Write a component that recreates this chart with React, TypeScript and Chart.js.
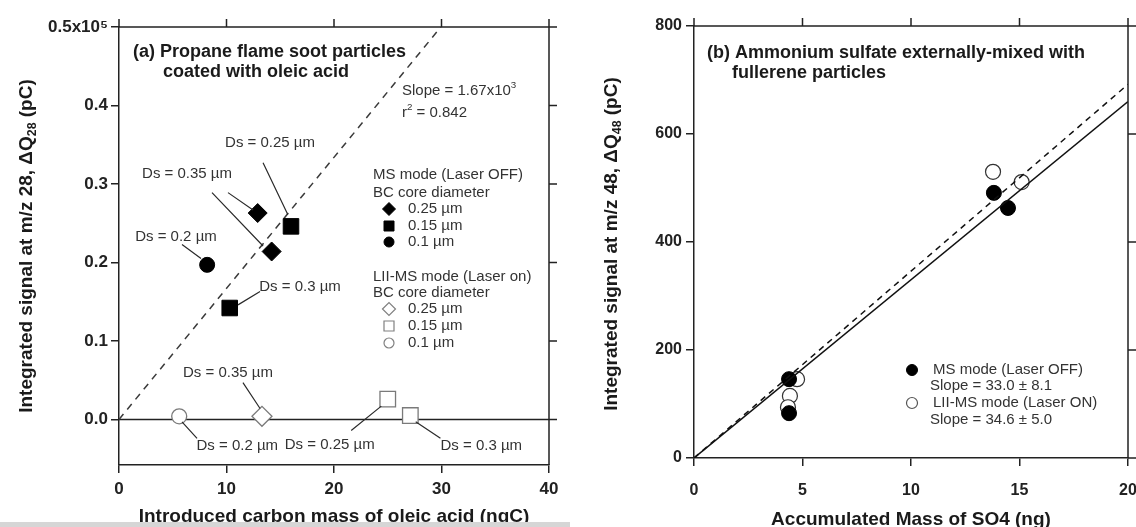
import React, { useEffect, useRef } from 'react';
import { Chart, registerables } from 'chart.js';

Chart.register(...registerables);

const FONT = "'Liberation Sans', Arial, Helvetica, sans-serif";
const AXIS = '#222222';
const TEXT = '#333333';

// ---------- Panel (a): propane flame soot coated with oleic acid ----------
const aXTicks = [0, 10, 20, 30, 40];
const aYTicks = [0, 0.1, 0.2, 0.3, 0.4, 0.5];
// MS mode (laser off)
const aMsDiamondX = [12.9, 14.2];
const aMsDiamondY = [0.263, 0.214];
const aMsSquareX = [16.0, 10.3];
const aMsSquareY = [0.246, 0.142];
const aMsCircleX = [8.2];
const aMsCircleY = [0.197];
// LII-MS mode (laser on)
const aLiiDiamondX = [13.3];
const aLiiDiamondY = [0.004];
const aLiiSquareX = [25.0, 27.1];
const aLiiSquareY = [0.026, 0.005];
const aLiiCircleX = [5.6];
const aLiiCircleY = [0.004];
const aFitSlope = 0.0167; // x10^5 pC per ngC
// Ds labels (data coords of label centre) and leader lines
const aNoteText = ['Ds = 0.25 µm', 'Ds = 0.35 µm', 'Ds = 0.2 µm', 'Ds = 0.3 µm', 'Ds = 0.35 µm', 'Ds = 0.2 µm', 'Ds = 0.25 µm', 'Ds = 0.3 µm'];
const aNoteX = [14.05, 6.33, 5.3, 16.84, 10.14, 11.0, 19.6, 33.7];
const aNoteY = [0.352, 0.313, 0.233, 0.169, 0.06, -0.034, -0.032, -0.034];
const aLeaders = [
  [13.4, 0.327, 15.7, 0.261],
  [10.14, 0.289, 12.47, 0.267],
  [8.65, 0.289, 13.4, 0.221],
  [5.86, 0.223, 7.63, 0.205],
  [11.07, 0.146, 13.12, 0.163],
  [11.53, 0.047, 13.12, 0.014],
  [5.86, -0.003, 7.26, -0.024],
  [21.6, -0.014, 24.4, 0.017],
  [27.6, -0.003, 29.9, -0.024],
];

// ---------- Panel (b): ammonium sulfate + fullerene ----------
const bXTicks = [0, 5, 10, 15, 20];
const bYTicks = [0, 200, 400, 600, 800];
const bMsX = [4.38, 4.38, 13.82, 14.47];
const bMsY = [146, 83, 491, 463];
const bLiiX = [4.75, 4.42, 4.33, 13.78, 15.1];
const bLiiY = [146, 115, 94, 530, 511];
const bSlopeMs = 33.0;
const bSlopeLii = 34.6;
const bFitRange = [0, 20];

const zip = (xs: number[], ys: number[]) => xs.map((x, i) => ({ x, y: ys[i] }));

type Part = { t: string; s?: 'sub' | 'sup' };

function richWidth(ctx: CanvasRenderingContext2D, parts: Part[], size: number, weight: string) {
  let w = 0;
  for (const p of parts) {
    const fs = p.s ? size * 0.65 : size;
    ctx.font = `${weight} ${fs}px ${FONT}`;
    w += ctx.measureText(p.t).width;
  }
  return w;
}

function drawRich(ctx: CanvasRenderingContext2D, x: number, y: number, parts: Part[], size: number, weight: string, align: 'left' | 'center', color: string) {
  const total = richWidth(ctx, parts, size, weight);
  let cx = align === 'center' ? x - total / 2 : x;
  ctx.textBaseline = 'middle';
  ctx.textAlign = 'left';
  ctx.fillStyle = color;
  for (const p of parts) {
    const fs = p.s ? size * 0.65 : size;
    ctx.font = `${weight} ${fs}px ${FONT}`;
    const dy = p.s === 'sub' ? size * 0.3 : p.s === 'sup' ? -size * 0.38 : 0;
    ctx.fillText(p.t, cx, y + dy);
    cx += ctx.measureText(p.t).width;
  }
}

function drawMarker(ctx: CanvasRenderingContext2D, shape: string, x: number, y: number, r: number, fill: string, stroke: string, lw: number) {
  ctx.beginPath();
  if (shape === 'circle') ctx.arc(x, y, r, 0, Math.PI * 2);
  else if (shape === 'rect') ctx.rect(x - r, y - r, 2 * r, 2 * r);
  else {
    ctx.moveTo(x - r, y);
    ctx.lineTo(x, y - r);
    ctx.lineTo(x + r, y);
    ctx.lineTo(x, y + r);
    ctx.closePath();
  }
  ctx.fillStyle = fill;
  ctx.fill();
  ctx.lineWidth = lw;
  ctx.strokeStyle = stroke;
  ctx.stroke();
}

function drawFrame(chart: any, xTicks: number[], yTicks: number[]) {
  const { ctx, chartArea: ca, scales } = chart;
  ctx.save();
  ctx.strokeStyle = AXIS;
  ctx.lineWidth = 1.5;
  ctx.beginPath();
  ctx.moveTo(ca.left, ca.top);
  ctx.lineTo(ca.right, ca.top);
  ctx.lineTo(ca.right, ca.bottom);
  for (const v of xTicks) {
    const px = scales.x.getPixelForValue(v);
    ctx.moveTo(px, ca.top);
    ctx.lineTo(px, ca.top - 8);
  }
  for (const v of yTicks) {
    const py = scales.y.getPixelForValue(v);
    ctx.moveTo(ca.right, py);
    ctx.lineTo(ca.right + 8, py);
  }
  ctx.stroke();
  ctx.restore();
}

function axisStyle(size: number) {
  return {
    grid: { display: true, drawOnChartArea: false, drawTicks: true, tickLength: 8, color: AXIS, lineWidth: 1.5 },
    border: { display: true, color: AXIS, width: 1.5 },
    ticks: { color: AXIS, font: { family: FONT, size, weight: 'bold' } },
  };
}

const fitX = (h: number) => (s: any) => {
  s.height = h;
  s.paddingLeft = 0;
  s.paddingRight = 0;
};
const fitY = (w: number) => (s: any) => {
  s.width = w;
  s.paddingTop = 0;
  s.paddingBottom = 0;
};

const leftDecor = {
  id: 'leftDecor',
  afterDraw(chart: any) {
    const { ctx, scales } = chart;
    const xs = scales.x;
    const ys = scales.y;
    drawFrame(chart, aXTicks, aYTicks);
    ctx.save();
    // leader lines
    ctx.strokeStyle = '#2a2a2a';
    ctx.lineWidth = 1.2;
    ctx.beginPath();
    for (const [x1, y1, x2, y2] of aLeaders) {
      ctx.moveTo(xs.getPixelForValue(x1), ys.getPixelForValue(y1));
      ctx.lineTo(xs.getPixelForValue(x2), ys.getPixelForValue(y2));
    }
    ctx.stroke();
    aNoteText.forEach((t, i) => {
      drawRich(ctx, xs.getPixelForValue(aNoteX[i]), ys.getPixelForValue(aNoteY[i]), [{ t }], 15, 'normal', 'center', TEXT);
    });
    // title
    drawRich(ctx, 133, 52, [{ t: '(a) Propane flame soot particles' }], 18, 'bold', 'left', '#1a1a1a');
    drawRich(ctx, 163, 72, [{ t: 'coated with oleic acid' }], 18, 'bold', 'left', '#1a1a1a');
    // slope
    drawRich(ctx, 402, 91, [{ t: 'Slope = 1.67x10' }, { t: '3', s: 'sup' }], 15, 'normal', 'left', TEXT);
    drawRich(ctx, 402, 113, [{ t: 'r' }, { t: '2', s: 'sup' }, { t: ' = 0.842' }], 15, 'normal', 'left', TEXT);
    // legend
    const lx = 373, mx = 389, tx = 408;
    drawRich(ctx, lx, 175, [{ t: 'MS mode (Laser OFF)' }], 15, 'normal', 'left', TEXT);
    drawRich(ctx, lx, 193, [{ t: 'BC core diameter' }], 15, 'normal', 'left', TEXT);
    drawMarker(ctx, 'diamond', mx, 209, 6.5, '#000', '#000', 1);
    drawRich(ctx, tx, 209, [{ t: '0.25 µm' }], 15, 'normal', 'left', TEXT);
    drawMarker(ctx, 'rect', mx, 226, 5, '#000', '#000', 1);
    drawRich(ctx, tx, 226, [{ t: '0.15 µm' }], 15, 'normal', 'left', TEXT);
    drawMarker(ctx, 'circle', mx, 242, 5, '#000', '#000', 1);
    drawRich(ctx, tx, 242, [{ t: '0.1 µm' }], 15, 'normal', 'left', TEXT);
    drawRich(ctx, lx, 277, [{ t: 'LII-MS mode (Laser on)' }], 15, 'normal', 'left', TEXT);
    drawRich(ctx, lx, 293, [{ t: 'BC core diameter' }], 15, 'normal', 'left', TEXT);
    drawMarker(ctx, 'diamond', mx, 309, 6.5, '#fff', '#808080', 1.2);
    drawRich(ctx, tx, 309, [{ t: '0.25 µm' }], 15, 'normal', 'left', TEXT);
    drawMarker(ctx, 'rect', mx, 326, 5, '#fff', '#808080', 1.2);
    drawRich(ctx, tx, 326, [{ t: '0.15 µm' }], 15, 'normal', 'left', TEXT);
    drawMarker(ctx, 'circle', mx, 343, 5, '#fff', '#808080', 1.2);
    drawRich(ctx, tx, 343, [{ t: '0.1 µm' }], 15, 'normal', 'left', TEXT);
    // axis titles
    drawRich(ctx, 334, 517, [{ t: 'Introduced carbon mass of oleic acid (ngC)' }], 19, 'bold', 'center', '#1a1a1a');
    ctx.save();
    ctx.translate(27, 246);
    ctx.rotate(-Math.PI / 2);
    drawRich(ctx, 0, 0, [{ t: 'Integrated signal at m/z 28, ΔQ' }, { t: '28', s: 'sub' }, { t: ' (pC)' }], 19, 'bold', 'center', '#1a1a1a');
    ctx.restore();
    // scan border band at the bottom
    ctx.fillStyle = '#d6d6d6';
    ctx.fillRect(0, 522, 570, 5);
    ctx.restore();
  },
};

const rightDecor = {
  id: 'rightDecor',
  afterDraw(chart: any) {
    const { ctx } = chart;
    drawFrame(chart, bXTicks, bYTicks);
    ctx.save();
    drawRich(ctx, 137, 53, [{ t: '(b) Ammonium sulfate externally-mixed with' }], 18, 'bold', 'left', '#1a1a1a');
    drawRich(ctx, 162, 73, [{ t: 'fullerene particles' }], 18, 'bold', 'left', '#1a1a1a');
    drawMarker(ctx, 'circle', 342, 370, 5.5, '#000', '#000', 1);
    drawRich(ctx, 363, 370, [{ t: 'MS mode (Laser OFF)' }], 15, 'normal', 'left', TEXT);
    drawRich(ctx, 360, 386, [{ t: 'Slope = 33.0 ± 8.1' }], 15, 'normal', 'left', TEXT);
    drawMarker(ctx, 'circle', 342, 403, 5.5, '#fff', '#555', 1.2);
    drawRich(ctx, 363, 403, [{ t: 'LII-MS mode (Laser ON)' }], 15, 'normal', 'left', TEXT);
    drawRich(ctx, 360, 420, [{ t: 'Slope = 34.6 ± 5.0' }], 15, 'normal', 'left', TEXT);
    drawRich(ctx, 341, 520, [{ t: 'Accumulated Mass of SO4 (ng)' }], 19, 'bold', 'center', '#1a1a1a');
    ctx.save();
    ctx.translate(42, 244);
    ctx.rotate(-Math.PI / 2);
    drawRich(ctx, 0, 0, [{ t: 'Integrated signal at m/z 48, ΔQ' }, { t: '48', s: 'sub' }, { t: ' (pC)' }], 19, 'bold', 'center', '#1a1a1a');
    ctx.restore();
    ctx.restore();
  },
};

function leftConfig(): any {
  const ax = axisStyle(17);
  return {
    type: 'scatter',
    data: {
      datasets: [
        { data: zip(aMsDiamondX, aMsDiamondY), pointStyle: 'rectRot', pointRadius: 9.5, backgroundColor: '#000', borderColor: '#000', borderWidth: 1 },
        { data: zip(aMsSquareX, aMsSquareY), pointStyle: 'rect', pointRadius: 11, backgroundColor: '#000', borderColor: '#000', borderWidth: 1 },
        { data: zip(aMsCircleX, aMsCircleY), pointStyle: 'circle', pointRadius: 7.5, backgroundColor: '#000', borderColor: '#000', borderWidth: 1 },
        { data: zip(aLiiDiamondX, aLiiDiamondY), pointStyle: 'rectRot', pointRadius: 10, backgroundColor: '#fff', borderColor: '#7a7a7a', borderWidth: 1.3 },
        { data: zip(aLiiSquareX, aLiiSquareY), pointStyle: 'rect', pointRadius: 11, backgroundColor: '#fff', borderColor: '#7a7a7a', borderWidth: 1.3 },
        { data: zip(aLiiCircleX, aLiiCircleY), pointStyle: 'circle', pointRadius: 7.5, backgroundColor: '#fff', borderColor: '#7a7a7a', borderWidth: 1.3 },
        { data: [{ x: 0, y: 0 }, { x: 0.5 / aFitSlope, y: 0.5 }], showLine: true, pointRadius: 0, borderColor: '#3a3a3a', borderWidth: 1.5, borderDash: [7, 6] },
        { data: [{ x: aXTicks[0], y: 0 }, { x: aXTicks[aXTicks.length - 1], y: 0 }], showLine: true, pointRadius: 0, borderColor: AXIS, borderWidth: 1.5 },
      ],
    },
    options: {
      animation: false,
      responsive: false,
      devicePixelRatio: 1,
      events: [],
      layout: { padding: { top: 27, right: 21, left: 0, bottom: 0 }, autoPadding: false },
      plugins: { legend: { display: false }, tooltip: { enabled: false } },
      scales: {
        x: {
          type: 'linear', min: 0, max: 40,
          ...ax,
          ticks: { ...ax.ticks, padding: 6 },
          afterBuildTicks: (s: any) => { s.ticks = aXTicks.map((value) => ({ value })); },
          afterFit: fitX(62),
        },
        y: {
          type: 'linear', min: -0.058, max: 0.5,
          ...ax,
          ticks: { ...ax.ticks, padding: 3, callback: (v: number) => (v === 0.5 ? '0.5x10⁵' : v.toFixed(1)) },
          afterBuildTicks: (s: any) => { s.ticks = aYTicks.map((value) => ({ value })); },
          afterFit: fitY(119),
        },
      },
    },
    plugins: [leftDecor],
  };
}

function rightConfig(): any {
  const ax = axisStyle(16);
  return {
    type: 'scatter',
    data: {
      datasets: [
        { data: bFitRange.map((x) => ({ x, y: bSlopeMs * x })), showLine: true, pointRadius: 0, borderColor: '#111', borderWidth: 1.5 },
        { data: bFitRange.map((x) => ({ x, y: bSlopeLii * x })), showLine: true, pointRadius: 0, borderColor: '#111', borderWidth: 1.5, borderDash: [6, 5] },
        { data: zip(bMsX, bMsY), pointStyle: 'circle', pointRadius: 7.5, backgroundColor: '#000', borderColor: '#000', borderWidth: 1 },
        { data: zip(bLiiX, bLiiY), pointStyle: 'circle', pointRadius: 7.5, backgroundColor: '#fff', borderColor: '#333', borderWidth: 1.2 },
      ],
    },
    options: {
      animation: false,
      responsive: false,
      devicePixelRatio: 1,
      events: [],
      layout: { padding: { top: 26, right: 8, left: 0, bottom: 0 }, autoPadding: false },
      plugins: { legend: { display: false }, tooltip: { enabled: false } },
      scales: {
        x: {
          type: 'linear', min: 0, max: 20,
          ...ax,
          ticks: { ...ax.ticks, padding: 15 },
          afterBuildTicks: (s: any) => { s.ticks = bXTicks.map((value) => ({ value })); },
          afterFit: fitX(69),
        },
        y: {
          type: 'linear', min: 0, max: 800,
          ...ax,
          ticks: { ...ax.ticks, padding: 4 },
          afterBuildTicks: (s: any) => { s.ticks = bYTicks.map((value) => ({ value })); },
          afterFit: fitY(124),
        },
      },
    },
    plugins: [rightDecor],
  };
}

function Panel({ make, left, width }: { make: () => any; left: number; width: number }) {
  const ref = useRef<HTMLCanvasElement>(null);
  useEffect(() => {
    const chart = new Chart(ref.current as HTMLCanvasElement, make());
    return () => chart.destroy();
  }, []);
  return (
    <canvas
      ref={ref}
      width={width}
      height={527}
      style={{ position: 'absolute', left, top: 0, width, height: 527, display: 'block' }}
    />
  );
}

export default function App() {
  return (
    <div style={{ position: 'fixed', left: 0, top: 0, width: 1136, height: 527, background: '#fff', overflow: 'hidden' }}>
      <Panel make={leftConfig} left={0} width={570} />
      <Panel make={rightConfig} left={570} width={566} />
    </div>
  );
}
